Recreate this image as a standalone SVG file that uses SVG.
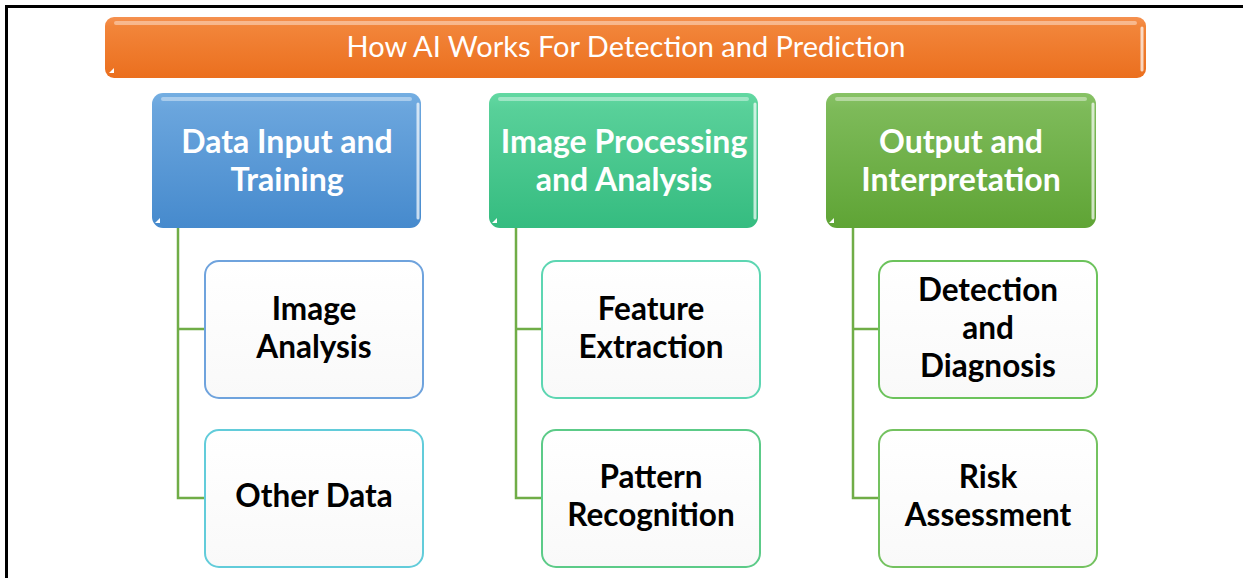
<svg xmlns="http://www.w3.org/2000/svg" width="1243" height="578" viewBox="0 0 1243 578">
<defs>
<linearGradient id="gOrange" x1="0" y1="0" x2="0" y2="1"><stop offset="0" stop-color="#F59150"/><stop offset="0.15" stop-color="#F2853A"/><stop offset="1" stop-color="#EB6F1E"/></linearGradient>
<linearGradient id="gBlue" x1="0" y1="0" x2="0" y2="1"><stop offset="0" stop-color="#74AEE2"/><stop offset="0.12" stop-color="#6AA5DD"/><stop offset="1" stop-color="#468ACD"/></linearGradient>
<linearGradient id="gTeal" x1="0" y1="0" x2="0" y2="1"><stop offset="0" stop-color="#62D8A2"/><stop offset="0.12" stop-color="#58D099"/><stop offset="1" stop-color="#35BC80"/></linearGradient>
<linearGradient id="gGreen" x1="0" y1="0" x2="0" y2="1"><stop offset="0" stop-color="#88C266"/><stop offset="0.12" stop-color="#7DBA59"/><stop offset="1" stop-color="#5FA435"/></linearGradient>
<linearGradient id="gChild" x1="0" y1="0" x2="0" y2="1"><stop offset="0" stop-color="#FFFFFF"/><stop offset="1" stop-color="#F9F9F9"/></linearGradient>
</defs>
<style>
.frame{fill:none;stroke:#000;stroke-width:3}
.hl{fill:none;stroke:#FFFFFF;stroke-opacity:0.4;stroke-width:4;stroke-linecap:round}
.shine{fill:none;stroke:#FFFFFF;stroke-opacity:0.7;stroke-width:3;stroke-linecap:round}
.title{font-family:Lato,"Liberation Sans",sans-serif;font-size:29px;fill:#FFFFFF;text-anchor:middle}
.l1{font-family:Lato,"Liberation Sans",sans-serif;font-weight:bold;font-size:32px;fill:#FFFFFF;text-anchor:middle}
.l2{font-family:Lato,"Liberation Sans",sans-serif;font-weight:bold;font-size:31.5px;fill:#000000;text-anchor:middle}
.child{fill:url(#gChild);stroke-width:2}
.conn{fill:none;stroke:#70AD47;stroke-width:2.5}
</style>
<path class="frame" d="M6.5,578 V6.5 H1243"/>
<g id="title">
<rect x="105" y="17" width="1041" height="61" rx="9" fill="url(#gOrange)"/>
<line class="hl" x1="116" y1="23" x2="1135" y2="23"/>
<line class="shine" x1="1142" y1="28" x2="1142" y2="70"/>
<path d="M109,73 l5,-5 v5 z" fill="#FFFFFF"/>
<text class="title" x="626" y="57">How AI Works For Detection and Prediction</text>
</g>
<g id="connectors">
<path class="conn" d="M178,228 V498 H205 M178,329 H205"/>
<path class="conn" d="M516,228 V498 H542 M516,329 H542"/>
<path class="conn" d="M853,228 V498 H879 M853,329 H879"/>
</g>
<g id="n-data">
<rect x="152" y="93" width="269" height="135" rx="11" fill="url(#gBlue)"/>
<line class="hl" x1="163" y1="99" x2="410" y2="99"/>
<line class="shine" x1="418" y1="104" x2="418" y2="218"/>
<path d="M155,223 l5,-5 v5 z" fill="#FFFFFF"/>
<text class="l1" x="287" y="153">Data Input and</text>
<text class="l1" x="287" y="191">Training</text>
</g>
<g id="n-image">
<rect x="489" y="93" width="269" height="135" rx="11" fill="url(#gTeal)"/>
<line class="hl" x1="500" y1="99" x2="747" y2="99"/>
<line class="shine" x1="755" y1="104" x2="755" y2="218"/>
<path d="M492,223 l5,-5 v5 z" fill="#FFFFFF"/>
<text class="l1" x="624" y="153">Image Processing</text>
<text class="l1" x="624" y="191">and Analysis</text>
</g>
<g id="n-output">
<rect x="826" y="93" width="270" height="135" rx="11" fill="url(#gGreen)"/>
<line class="hl" x1="837" y1="99" x2="1085" y2="99"/>
<line class="shine" x1="1093" y1="104" x2="1093" y2="218"/>
<path d="M829,223 l5,-5 v5 z" fill="#FFFFFF"/>
<text class="l1" x="961" y="153">Output and</text>
<text class="l1" x="961" y="191">Interpretation</text>
</g>
<g id="n-image-analysis">
<rect class="child" x="205" y="261" width="218" height="137" rx="14" stroke="#6FA3DD"/>
<text class="l2" x="314" y="320">Image</text>
<text class="l2" x="314" y="358">Analysis</text>
</g>
<g id="n-other-data">
<rect class="child" x="205" y="430" width="218" height="137" rx="14" stroke="#62CCDA"/>
<text class="l2" x="314" y="507">Other Data</text>
</g>
<g id="n-feature">
<rect class="child" x="542" y="261" width="218" height="137" rx="14" stroke="#5DD6B2"/>
<text class="l2" x="651" y="320">Feature</text>
<text class="l2" x="651" y="358">Extraction</text>
</g>
<g id="n-pattern">
<rect class="child" x="542" y="430" width="218" height="137" rx="14" stroke="#5CCB88"/>
<text class="l2" x="651" y="488">Pattern</text>
<text class="l2" x="651" y="526">Recognition</text>
</g>
<g id="n-detection">
<rect class="child" x="879" y="261" width="218" height="137" rx="14" stroke="#6CC35C"/>
<text class="l2" x="988" y="301">Detection</text>
<text class="l2" x="988" y="339">and</text>
<text class="l2" x="988" y="377">Diagnosis</text>
</g>
<g id="n-risk">
<rect class="child" x="879" y="430" width="218" height="137" rx="14" stroke="#74C260"/>
<text class="l2" x="988" y="488">Risk</text>
<text class="l2" x="988" y="526">Assessment</text>
</g>
</svg>
